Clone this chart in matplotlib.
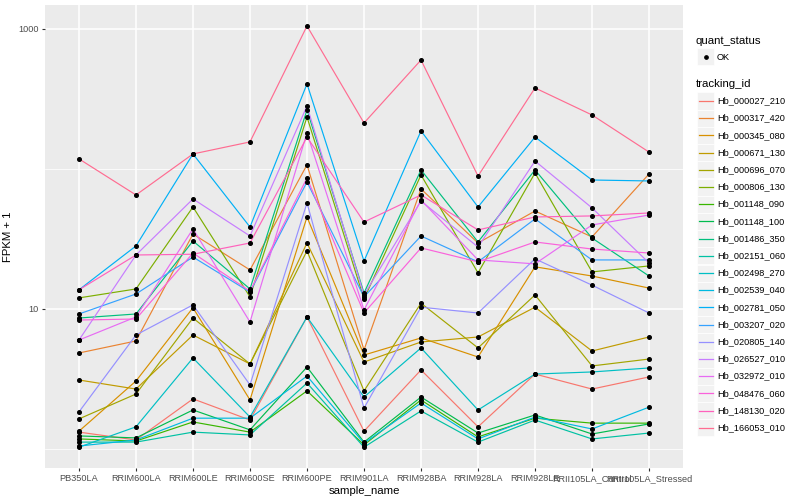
import numpy as np
import matplotlib.pyplot as plt
from matplotlib.patches import Rectangle
from matplotlib.lines import Line2D

plt.rcParams['font.family'] = ['Liberation Sans', 'DejaVu Sans']

# muestras (eje x)
samples = ['PB350LA', 'RRIM600LA', 'RRIM600LE', 'RRIM600SE', 'RRIM600PE', 'RRIM901LA',
           'RRIM928BA', 'RRIM928LA', 'RRIM928LE', 'RRII105LA_Control', 'RRII105LA_Stressed']

tracking_ids = ['Hb_000027_210', 'Hb_000317_420', 'Hb_000345_080', 'Hb_000671_130',
                'Hb_000696_070', 'Hb_000806_130', 'Hb_001148_090', 'Hb_001148_100',
                'Hb_001486_350', 'Hb_002151_060', 'Hb_002498_270', 'Hb_002539_040',
                'Hb_002781_050', 'Hb_003207_020', 'Hb_020805_140', 'Hb_026527_010',
                'Hb_032972_010', 'Hb_048476_060', 'Hb_148130_020', 'Hb_166053_010']

# paleta hue de ggplot (20 niveles)
colors = ['#F8766D', '#EA8331', '#D89000', '#C09B00', '#A3A500', '#7CAE00', '#39B600',
          '#00BB4E', '#00BF7D', '#00C1A3', '#00BFC4', '#00BAE0', '#00B0F6', '#35A2FF',
          '#9590FF', '#C77CFF', '#E76BF3', '#FA62DB', '#FF62BC', '#FF6C91']

# FPKM + 1 por gen
hb_000027_210 = [1.32, 1.16, 2.28, 1.61, 8.77, 1.34, 3.67, 1.44, 3.43, 2.68, 3.27]
hb_000317_420 = [4.85, 5.91, 34.3, 19.0, 107, 5.10, 72.0, 29.6, 50.1, 32.7, 92.1]
hb_000345_080 = [1.34, 3.06, 10.2, 2.24, 45.4, 4.69, 6.21, 4.54, 20.0, 17.2, 14.1]
hb_000671_130 = [3.11, 2.68, 6.52, 4.05, 29.6, 4.18, 5.81, 6.31, 10.3, 5.01, 6.31]
hb_000696_070 = [1.64, 2.47, 8.62, 4.05, 26.0, 2.60, 11.0, 5.27, 12.6, 3.92, 4.39]
hb_000806_130 = [12.0, 13.9, 53.5, 12.2, 235, 11.8, 90.6, 18.1, 93.6, 18.4, 20.3]
hb_001148_090 = [1.18, 1.14, 1.56, 1.32, 2.60, 1.07, 2.24, 1.22, 1.66, 1.53, 1.53]
hb_001148_100 = [1.24, 1.20, 1.90, 1.37, 3.85, 1.12, 2.35, 1.30, 1.75, 1.28, 1.51]
hb_001486_350 = [8.62, 9.21, 30.6, 13.9, 264, 13.0, 98.4, 30.1, 98.4, 32.1, 17.2]
hb_002151_060 = [1.12, 1.12, 1.32, 1.26, 2.96, 1.03, 1.87, 1.12, 1.61, 1.18, 1.30]
hb_002498_270 = [1.03, 1.44, 4.47, 1.69, 8.77, 2.35, 5.27, 1.90, 3.43, 3.55, 3.79]
hb_002539_040 = [1.05, 1.16, 1.66, 1.66, 3.32, 1.10, 2.13, 1.18, 1.69, 1.39, 1.99]
hb_002781_050 = [13.7, 28.2, 128, 38.5, 405, 22.0, 187, 53.5, 169, 83.4, 82.1]
hb_003207_020 = [9.21, 12.8, 23.5, 13.2, 80.7, 12.2, 33.2, 21.7, 44.0, 22.4, 22.4]
hb_020805_140 = [1.84, 6.52, 10.7, 2.87, 57.2, 1.96, 10.3, 9.36, 22.8, 14.8, 9.36]
hb_026527_010 = [6.0, 24.3, 61.1, 33.2, 282, 12.6, 59.0, 27.7, 114, 52.7, 21.3]
hb_032972_010 = [6.0, 8.77, 37.3, 8.07, 181, 9.84, 60.0, 22.4, 21.0, 39.8, 46.9]
hb_048476_060 = [8.34, 8.48, 25.1, 13.4, 86.2, 9.36, 27.3, 21.7, 30.1, 26.8, 25.1]
hb_148130_020 = [13.7, 24.3, 24.6, 29.6, 169, 41.8, 65.2, 36.7, 45.4, 46.2, 48.5]
hb_166053_010 = [118, 65.2, 128, 156, 1050, 213, 600, 89.0, 379, 243, 132]

series = [hb_000027_210, hb_000317_420, hb_000345_080, hb_000671_130, hb_000696_070,
          hb_000806_130, hb_001148_090, hb_001148_100, hb_001486_350, hb_002151_060,
          hb_002498_270, hb_002539_040, hb_002781_050, hb_003207_020, hb_020805_140,
          hb_026527_010, hb_032972_010, hb_048476_060, hb_148130_020, hb_166053_010]

fig = plt.figure(figsize=(8, 5), dpi=100)
ax = fig.add_axes([45/800, 1-468/500, (683-45)/800, (468-5)/500])
ax.set_facecolor('#EBEBEB')
for s in ax.spines.values():
    s.set_visible(False)

x = np.arange(len(samples))
for vals, c in zip(series, colors):
    ax.plot(x, vals, color=c, lw=0.85, zorder=3)
for vals in series:
    ax.plot(x, vals, 'o', color='black', ms=2.6, zorder=4)

ax.set_yscale('log')
ax.set_ylim(10**-0.1357, 10**3.171)
ax.set_xlim(-0.596, 10.596)
ax.set_yticks([10, 1000])
ax.set_yticklabels(['10', '1000'])
ax.set_yticks([1, 100], minor=True)
ax.yaxis.set_minor_formatter(plt.NullFormatter())
ax.set_xticks(x)
ax.set_xticklabels(samples)
ax.grid(True, which='major', color='white', lw=1.1, zorder=0)
ax.grid(True, which='minor', axis='y', color='white', lw=0.55, zorder=0)
ax.set_axisbelow(True)
ax.tick_params(which='major', length=2.5, color='#333333', labelsize=6.6,
               labelcolor='#4D4D4D', pad=2)
ax.tick_params(which='minor', length=0)
ax.set_xlabel('sample_name', fontsize=8.2, labelpad=2)
ax.set_ylabel('FPKM + 1', fontsize=8.2, labelpad=4)

# leyenda manual estilo ggplot
def fx(px):
    return px / 800

def fy(py):
    return 1 - py / 500

fig.text(fx(696), fy(41), 'quant_status', fontsize=8.2, va='center', ha='left')
fig.patches.append(Rectangle((fx(697), fy(65)), 17/800, 17/500, transform=fig.transFigure,
                             facecolor='#F2F2F2', edgecolor='white', lw=0.5))
fig.lines.append(Line2D([fx(705.5)], [fy(56.5)], marker='o', color='black', ms=2.4,
                        transform=fig.transFigure))
fig.text(fx(717), fy(57), 'OK', fontsize=6.6, va='center', ha='left')

fig.text(fx(696), fy(84), 'tracking_id', fontsize=8.2, va='center', ha='left')
for i, (name, c) in enumerate(zip(tracking_ids, colors)):
    cy = 101 + 17.2 * i
    fig.patches.append(Rectangle((fx(697), fy(cy + 8.5)), 17/800, 17/500,
                                 transform=fig.transFigure, facecolor='#F2F2F2',
                                 edgecolor='white', lw=0.5))
    fig.lines.append(Line2D([fx(698.5), fx(712.5)], [fy(cy), fy(cy)], color=c, lw=0.9,
                            transform=fig.transFigure))
    fig.text(fx(717), fy(cy), name, fontsize=6.6, va='center', ha='left')

fig.savefig('out.png', dpi=100)
